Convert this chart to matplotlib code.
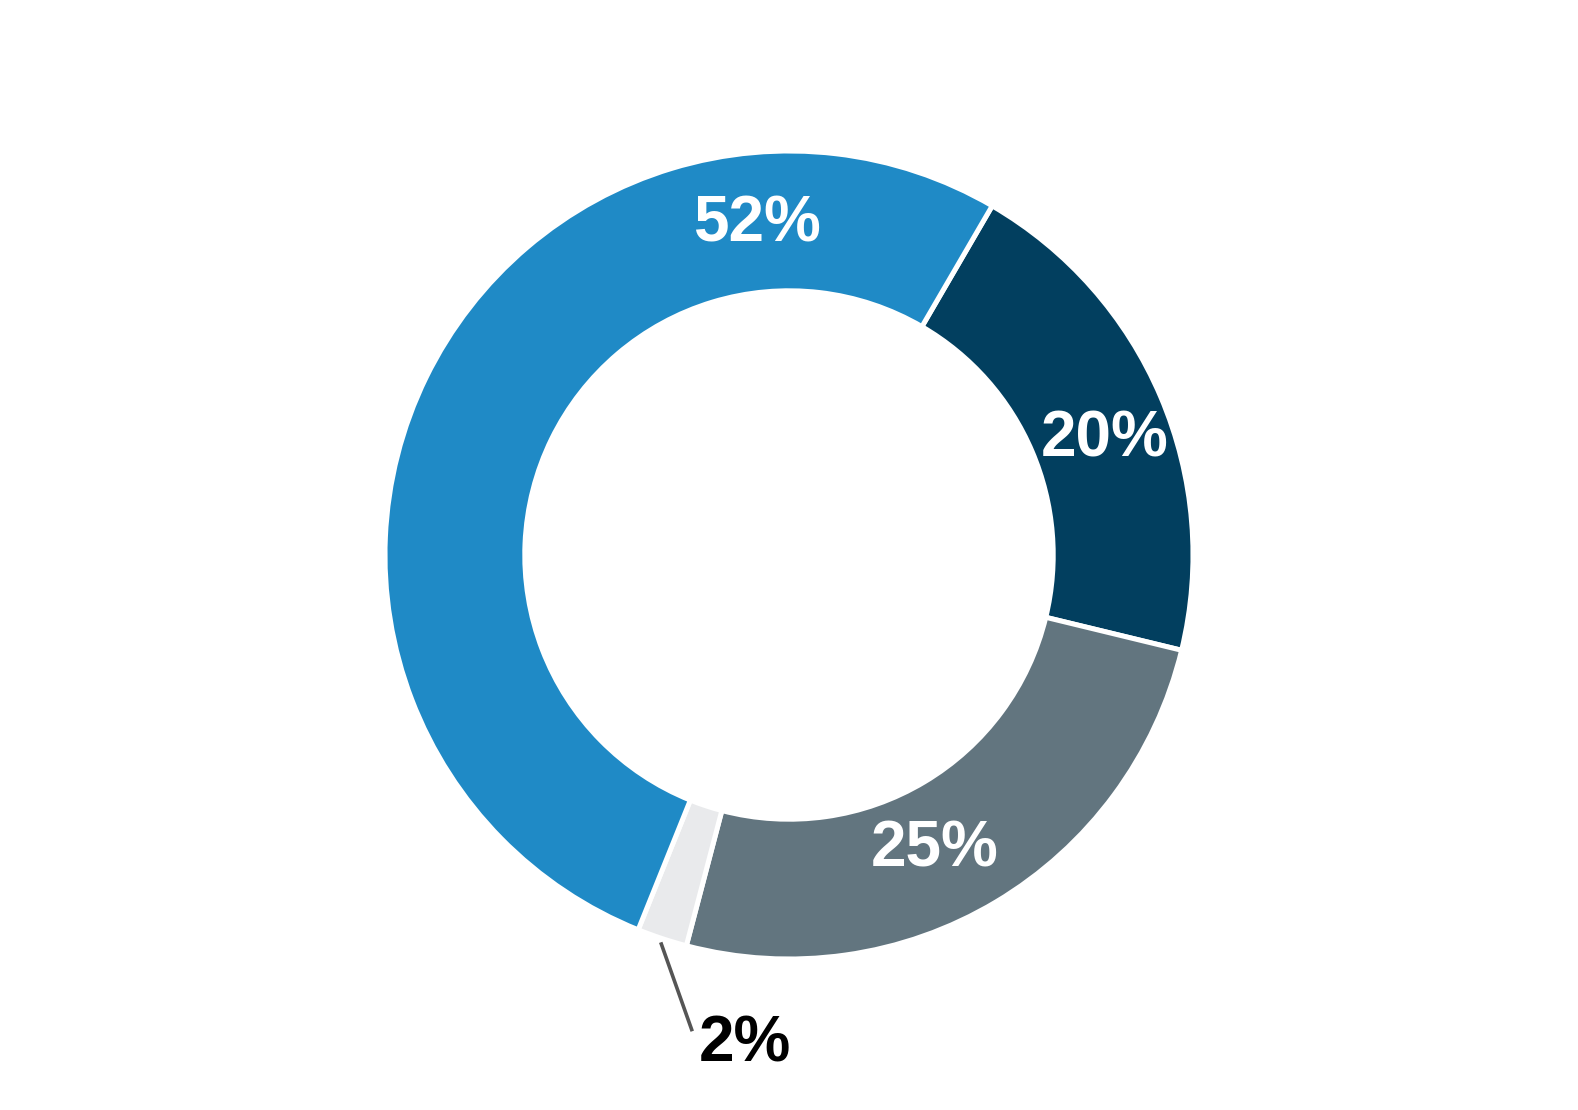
import numpy as np
import matplotlib
matplotlib.use("Agg")
import matplotlib.pyplot as plt

plt.rcParams["font.family"] = ["Liberation Sans", "DejaVu Sans"]

# data, clockwise from the navy slice
labels = ["20%", "25%", "2%", "52%"]
values = [20.4, 25.3, 2.0, 52.3]
colors = ["#023f5f", "#62757f", "#e9eaec", "#1f8ac6"]

# where the labels sit inside the ring (degrees, radius)
label_angle = [21, -63.2, None, 95.5]
label_r = [0.837, 0.80, None, 0.837]

W, H, DPI = 1578, 1110, 100
R_PX = 404.0          # outer radius in pixels
CX, CY = 789, 555     # center in pixels (from top-left)

fig = plt.figure(figsize=(W / DPI, H / DPI), dpi=DPI)
ax = fig.add_axes([0, 0, 1, 1])

wedges, _ = ax.pie(
    values,
    colors=colors,
    startangle=59.8,
    counterclock=False,
    radius=1.0,
    wedgeprops=dict(width=0.346, edgecolor="white", linewidth=3.6),
)

ax.set_xlim(-CX / R_PX, (W - CX) / R_PX)
ax.set_ylim(-(H - CY) / R_PX, CY / R_PX)
ax.set_aspect("equal")
ax.axis("off")

dy = -0.014  # visual centring of the glyphs
for w, lab, ang, r in zip(wedges, labels, label_angle, label_r):
    if ang is None:
        # small slice: leader line + outside label
        mid = np.deg2rad((w.theta1 + w.theta2) / 2)
        x0, y0 = 1.01 * np.cos(mid), 1.01 * np.sin(mid)
        x1, y1 = x0 + 0.078, y0 - 0.22
        ax.plot([x0, x1], [y0, y1], color="#555555", lw=2.6, solid_capstyle="butt")
        ax.text(x1 + 0.13, y1 - 0.018 + dy, lab, ha="center", va="center",
                fontsize=46, fontweight="bold", color="black")
        continue
    t = np.deg2rad(ang)
    ax.text(r * np.cos(t), r * np.sin(t) + dy, lab, ha="center", va="center",
            fontsize=46, fontweight="bold", color="white")

fig.savefig("out.png", dpi=DPI, facecolor="white")
